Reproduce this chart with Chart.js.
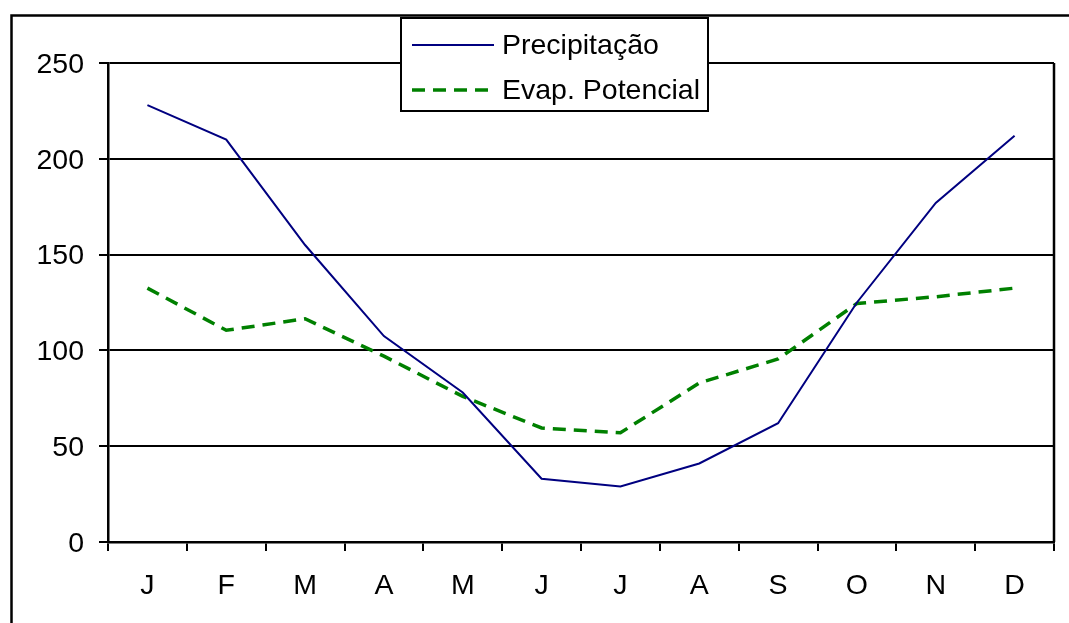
<!DOCTYPE html>
<html>
<head>
<meta charset="utf-8">
<script src="https://cdn.jsdelivr.net/npm/chart.js@4"></script>
<style>
  html, body { margin: 0; padding: 0; background: #fff; }
  #wrap { width: 1069px; height: 623px; position: relative; }
</style>
</head>
<body>
<div id="wrap"><canvas id="chart" width="1069" height="623"></canvas></div>
<script>
const months = ['J', 'F', 'M', 'A', 'M', 'J', 'J', 'A', 'S', 'O', 'N', 'D'];
const precipitacao = [228, 210, 155, 107.5, 78, 33, 29, 41, 62, 125, 177, 212];
const evapPotencial = [132.5, 110.5, 116.5, 97, 76, 59.5, 57, 83, 95.5, 124.5, 128, 132.5];
const yTicks = [0, 50, 100, 150, 200, 250];

const FONT = 'Liberation Sans, Arial, sans-serif';

// outer frame, plot box right edge and the boxed legend
const framePlugin = {
    id: 'frame',
    beforeDraw(chart) {
        const ctx = chart.ctx;
        ctx.save();
        ctx.fillStyle = '#fff';
        ctx.fillRect(0, 0, chart.width, chart.height);
        ctx.strokeStyle = '#000';
        ctx.lineWidth = 2.5;
        ctx.strokeRect(11.5, 15.5, 1200, 800);
        ctx.restore();
    },
    afterDraw(chart) {
        const ctx = chart.ctx;
        const a = chart.chartArea;
        ctx.save();
        ctx.strokeStyle = '#000';
        ctx.lineWidth = 2.5;
        ctx.beginPath();
        ctx.moveTo(a.right, a.top);
        ctx.lineTo(a.right, a.bottom);
        ctx.stroke();

        // legend
        ctx.fillStyle = '#fff';
        ctx.fillRect(401, 18, 307, 93);
        ctx.lineWidth = 2;
        ctx.strokeRect(401, 18, 307, 93);
        const rows = [45, 90];
        chart.data.datasets.forEach((ds, i) => {
            ctx.strokeStyle = ds.borderColor;
            ctx.lineWidth = ds.borderWidth;
            ctx.setLineDash(ds.borderDash || []);
            ctx.beginPath();
            ctx.moveTo(412, rows[i]);
            ctx.lineTo(494, rows[i]);
            ctx.stroke();
            ctx.setLineDash([]);
            ctx.fillStyle = '#000';
            ctx.font = '28.5px ' + FONT;
            ctx.textBaseline = 'middle';
            ctx.fillText(ds.label, 502, rows[i] + 1);
        });
        ctx.restore();
    }
};

new Chart(document.getElementById('chart').getContext('2d'), {
    type: 'line',
    data: {
        labels: months,
        datasets: [{
            label: 'Precipitação',
            data: precipitacao,
            borderColor: '#000080',
            borderWidth: 2,
            pointRadius: 0,
            tension: 0,
            fill: false
        }, {
            label: 'Evap. Potencial',
            data: evapPotencial,
            borderColor: '#008000',
            borderWidth: 3.5,
            borderDash: [13, 8],
            pointRadius: 0,
            tension: 0,
            fill: false
        }]
    },
    options: {
        responsive: false,
        animation: false,
        layout: { padding: { top: 63, right: 15, left: 0, bottom: 0 } },
        plugins: { legend: { display: false }, tooltip: { enabled: false } },
        scales: {
            x: {
                offset: true,
                grid: { offset: true, drawOnChartArea: false, color: '#000', lineWidth: 2, tickLength: 9 },
                border: { color: '#000', width: 2.5 },
                ticks: { color: '#000', font: { family: FONT, size: 28.5 }, padding: 18, maxRotation: 0 },
                afterFit(s) { s.height = 81; }
            },
            y: {
                min: 0,
                max: 250,
                afterBuildTicks(s) { s.ticks = yTicks.map(v => ({ value: v })); },
                grid: { color: '#000', lineWidth: 2, tickLength: 9 },
                border: { color: '#000', width: 2.5 },
                ticks: { color: '#000', font: { family: FONT, size: 28.5 }, padding: 15, labelOffset: 2 },
                afterFit(s) { s.width = 108; }
            }
        }
    },
    plugins: [framePlugin]
});
</script>
</body>
</html>
